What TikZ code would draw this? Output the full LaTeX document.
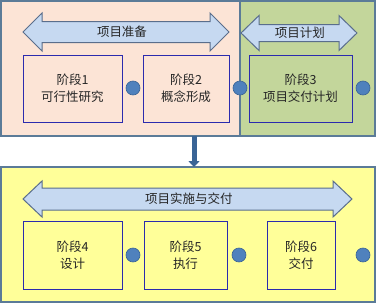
\documentclass[tikz,border=0pt]{standalone}
\usepackage{fontspec}
\setmainfont{Noto Sans CJK SC}
\usetikzlibrary{arrows.meta}
\definecolor{peach}{HTML}{FCE4D6}
\definecolor{greenfill}{HTML}{C3D69B}
\definecolor{yellowfill}{HTML}{FFFF99}
\definecolor{arrowfill}{HTML}{C6D9F1}
\definecolor{arrowline}{HTML}{5A6E8C}
\definecolor{panelline}{HTML}{5B7B98}
\definecolor{boxline}{HTML}{2B2BAE}
\definecolor{dotfill}{HTML}{4F81BD}
\definecolor{dotline}{HTML}{3A6496}
\definecolor{txt}{HTML}{262626}
\tikzset{
  panel/.style={draw=panelline, line width=1.2pt},
  stagebox/.style={draw=boxline, line width=0.9pt, align=center, text=txt,
    font=\fontsize{12.5}{17}\selectfont, inner sep=0pt},
  dot/.style={circle, draw=dotline, fill=dotfill, line width=0.6pt, minimum size=14pt, inner sep=0pt},
  dblarr/.style={draw=arrowline, fill=arrowfill, line width=1pt, line join=miter},
  arrlabel/.style={text=txt, font=\fontsize{12.5}{15}\selectfont, inner sep=0pt},
}
\newcommand\mydblarrow[6]{% xl xr yc h H S
  \draw[dblarr] (#1,#3) -- ({#1+#4},{#3-#5}) -- ({#1+#4},{#3-#6}) -- ({#2-#4},{#3-#6})
   -- ({#2-#4},{#3-#5}) -- (#2,#3) -- ({#2-#4},{#3+#5}) -- ({#2-#4},{#3+#6})
   -- ({#1+#4},{#3+#6}) -- ({#1+#4},{#3+#5}) -- cycle;}
\begin{document}
\begin{tikzpicture}[x=1pt,y=-1pt]
\useasboundingbox (0,0) rectangle (376,303);
% panels
\draw[panel, fill=peach] (1,1) rectangle (240,136);
\draw[panel, fill=greenfill] (240,1) rectangle (375,136);
\draw[panel, fill=yellowfill] (1,167) rectangle (375,302);
% vertical connector
\coordinate (ptop) at (194,136);
\coordinate (pbot) at (194,167);
\draw[draw=dotline, line width=5pt, -{Triangle[width=11pt,length=6pt]}] (ptop) -- (pbot);
% arrows
\mydblarrow{23}{229}{32}{19}{19}{10.5}
\node[arrlabel] (lprep) at (122,32) {项目准备};
\mydblarrow{241}{357}{33}{18}{17.5}{8.5}
\node[arrlabel] (lplan) at (300,33) {项目计划};
\mydblarrow{23}{352}{199}{19}{18}{11}
\node[arrlabel] (limpl) at (189,199) {项目实施与交付};
% stage boxes top
\node[stagebox, fill=peach, minimum width=99pt, minimum height=67pt] (s1) at (72.5,88.5) {阶段1\\可行性研究};
\node[stagebox, fill=peach, minimum width=86pt, minimum height=67pt] (s2) at (186,88.5) {阶段2\\概念形成};
\node[stagebox, fill=greenfill, minimum width=103pt, minimum height=67pt] (s3) at (300.5,88.5) {阶段3\\项目交付计划};
% stage boxes bottom
\node[stagebox, fill=yellowfill, minimum width=99pt, minimum height=68pt] (s4) at (72.5,255) {阶段4\\设计};
\node[stagebox, fill=yellowfill, minimum width=83pt, minimum height=68pt] (s5) at (185.5,255) {阶段5\\执行};
\node[stagebox, fill=yellowfill, minimum width=68pt, minimum height=68pt] (s6) at (301,255) {阶段6\\交付};
% dots
\node[dot] (d1) at (133,88) {};
\node[dot] (d2) at (240,88) {};
\node[dot] (d3) at (363,88) {};
\node[dot] (d4) at (133,255) {};
\node[dot] (d5) at (239,255) {};
\node[dot] (d6) at (363,255) {};
\end{tikzpicture}
\end{document}
